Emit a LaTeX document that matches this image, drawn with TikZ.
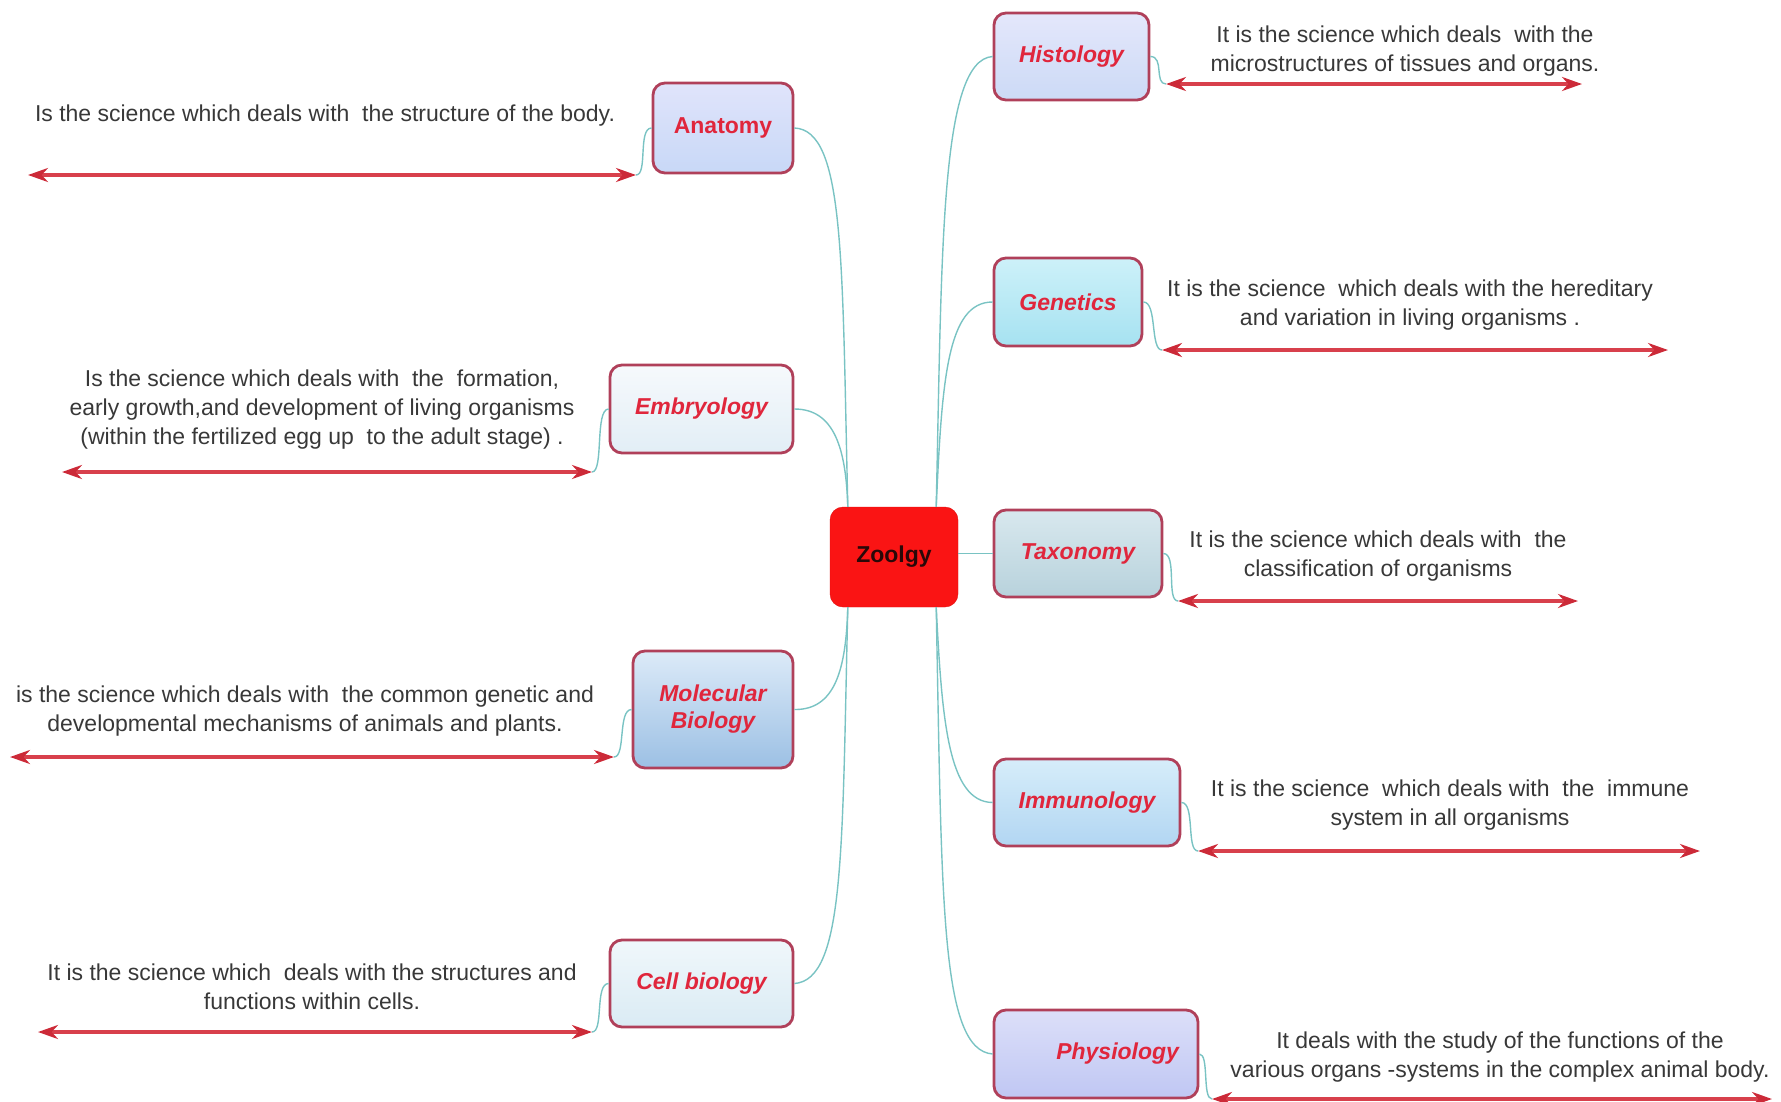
\documentclass[tikz,border=0pt]{standalone}
\usepackage{fontspec}
\setmainfont{Liberation Sans}
\usetikzlibrary{arrows.meta}
\definecolor{descgray}{HTML}{383838}
\definecolor{labelred}{HTML}{E0263C}
\definecolor{boxborder}{HTML}{B0405A}
\definecolor{linkteal}{HTML}{79C3C3}
\definecolor{arrowred}{HTML}{D8404C}
\definecolor{tipred}{HTML}{CC2A38}
\definecolor{zoored}{HTML}{FA1414}
\definecolor{zootext}{HTML}{2A0808}
\definecolor{anaT}{HTML}{E0E4FB}\definecolor{anaB}{HTML}{C8D8F7}
\definecolor{embT}{HTML}{F6F9FC}\definecolor{embB}{HTML}{E2EEF6}
\definecolor{molT}{HTML}{DCEAF8}\definecolor{molB}{HTML}{9CC0E4}
\definecolor{celT}{HTML}{F0F7FB}\definecolor{celB}{HTML}{DAEBF4}
\definecolor{hisT}{HTML}{E4E7FB}\definecolor{hisB}{HTML}{CCDAF6}
\definecolor{genT}{HTML}{CDF1F9}\definecolor{genB}{HTML}{A6E2F1}
\definecolor{taxT}{HTML}{D8E8EE}\definecolor{taxB}{HTML}{B8D2DC}
\definecolor{immT}{HTML}{D6EDFA}\definecolor{immB}{HTML}{B2D6F2}
\definecolor{phyT}{HTML}{DCDFF9}\definecolor{phyB}{HTML}{C0C7F3}
\tikzset{
  topic/.style={draw=boxborder, line width=2.8pt, rounded corners=12pt, inner sep=0pt,
    font=\fontsize{23}{27}\selectfont\bfseries\itshape, text=labelred, align=center},
  desc/.style={font=\fontsize{23}{29}\selectfont, text=descgray, align=center, inner sep=0pt},
  redarrow/.style={draw=arrowred, line width=3.4pt,
    {Stealth[length=20pt,width=14pt,color=tipred]}-{Stealth[length=20pt,width=14pt,color=tipred]}},
  teallink/.style={draw=linkteal, line width=1.4pt},
}
\begin{document}
\begin{tikzpicture}[x=1pt,y=-1pt]
\useasboundingbox (0,0) rectangle (1781,1101);
% central node
\node[draw=zoored!90!black, fill=zoored, rounded corners=13pt, minimum width=128pt, minimum height=100pt,
  font=\fontsize{23}{27}\selectfont\bfseries, text=zootext, inner sep=0pt] (zoo) at (894,557) {Zoolgy};
% left topics
\node[topic, top color=anaT, bottom color=anaB, minimum width=140pt, minimum height=90pt, font=\fontsize{23}{27}\selectfont\bfseries] (anat) at (723,128) {Anatomy};
\node[topic, top color=embT, bottom color=embB, minimum width=183pt, minimum height=88pt] (embr) at (701.5,409) {Embryology};
\node[topic, top color=molT, bottom color=molB, minimum width=160pt, minimum height=117pt] (molb) at (713,709.5) {Molecular\\Biology};
\node[topic, top color=celT, bottom color=celB, minimum width=183pt, minimum height=87pt] (cell) at (701.5,983.5) {Cell biology};
% right topics
\node[topic, top color=hisT, bottom color=hisB, minimum width=155pt, minimum height=87pt] (hist) at (1071.5,56.5) {Histology};
\node[topic, top color=genT, bottom color=genB, minimum width=148pt, minimum height=88pt] (gene) at (1068,302) {Genetics};
\node[topic, top color=taxT, bottom color=taxB, minimum width=168pt, minimum height=87pt] (taxo) at (1078,553.5) {Taxonomy};
\node[topic, top color=immT, bottom color=immB, minimum width=186pt, minimum height=87pt] (immu) at (1087,802.5) {Immunology};
\node[topic, top color=phyT, bottom color=phyB, minimum width=204pt, minimum height=88pt, text width=166pt, align=right] (phys) at (1096,1054) {Physiology};
% main connectors
\coordinate (zl1) at ([xshift=18pt]zoo.north west);
\coordinate (zl2) at ([xshift=18pt]zoo.south west);
\coordinate (zr1) at ([xshift=-22pt]zoo.north east);
\coordinate (zr2) at ([xshift=-22pt]zoo.south east);
\draw[teallink] (zl1) .. controls (842,260) and (845,130) .. (anat.east);
\draw[teallink] (zl1) .. controls (846,450) and (835,409) .. (embr.east);
\draw[teallink] (zl2) .. controls (846,670) and (835,710) .. (molb.east);
\draw[teallink] (zl2) .. controls (842,850) and (845,980) .. (cell.east);
\draw[teallink] (zr1) .. controls (942,250) and (940,60) .. (hist.west);
\draw[teallink] (zr1) .. controls (942,380) and (947,302) .. (gene.west);
\draw[teallink] (taxo.west -| zoo.east) -- (taxo.west);
\draw[teallink] (zr2) .. controls (942,720) and (948,802) .. (immu.west);
\draw[teallink] (zr2) .. controls (942,900) and (940,1050) .. (phys.west);
% descriptions (left)
\node[desc] (tana) at (325,116) {Is the science which deals with \ the structure of the body.};
\coordinate (ana1) at (28,175); \coordinate (ana2) at (636,175);
\draw[redarrow] (ana1) -- (ana2);
\draw[teallink] (anat.west) .. controls +(-14,0) and +(12,0) .. (ana2);

\node[desc] (temb) at (322,410) {Is the science which deals with \ the \ formation,\\early growth,and development of living organisms\\(within the fertilized egg up \ to the adult stage) .};
\coordinate (emb1) at (62,472); \coordinate (emb2) at (592,472);
\draw[redarrow] (emb1) -- (emb2);
\draw[teallink] (embr.west) .. controls +(-14,0) and +(12,0) .. (emb2);

\node[desc] (tmol) at (305,711.5) {is the science which deals with \ the common genetic and\\developmental mechanisms of animals and plants.};
\coordinate (mol1) at (10,757); \coordinate (mol2) at (614,757);
\draw[redarrow] (mol1) -- (mol2);
\draw[teallink] (molb.west) .. controls +(-14,0) and +(12,0) .. (mol2);

\node[desc] (tcel) at (312,986.5) {It is the science which \ deals with the structures and\\functions within cells.};
\coordinate (cel1) at (38,1032); \coordinate (cel2) at (592,1032);
\draw[redarrow] (cel1) -- (cel2);
\draw[teallink] (cell.west) .. controls +(-14,0) and +(12,0) .. (cel2);
% descriptions (right)
\node[desc] (this) at (1405,51.5) {It is the science which deals \ with the\\microstructures of tissues and organs.};
\coordinate (his1) at (1166,84); \coordinate (his2) at (1582,84);
\draw[redarrow] (his1) -- (his2);
\draw[teallink] (hist.east) .. controls +(14,0) and +(-12,0) .. (his1);

\node[desc] (tgen) at (1410,305) {It is the science \ which deals with the hereditary\\and variation in living organisms .};
\coordinate (gen1) at (1162,350); \coordinate (gen2) at (1668,350);
\draw[redarrow] (gen1) -- (gen2);
\draw[teallink] (gene.east) .. controls +(14,0) and +(-12,0) .. (gen1);

\node[desc] (ttax) at (1378,556) {It is the science which deals with \ the\\classification of organisms};
\coordinate (tax1) at (1178,601); \coordinate (tax2) at (1578,601);
\draw[redarrow] (tax1) -- (tax2);
\draw[teallink] (taxo.east) .. controls +(14,0) and +(-12,0) .. (tax1);

\node[desc] (timm) at (1450,805) {It is the science \ which deals with \ the \ immune\\system in all organisms};
\coordinate (imm1) at (1198,851); \coordinate (imm2) at (1700,851);
\draw[redarrow] (imm1) -- (imm2);
\draw[teallink] (immu.east) .. controls +(14,0) and +(-12,0) .. (imm1);

\node[desc] (tphy) at (1500,1057) {It deals with the study of the functions of the\\various organs -systems in the complex animal body.};
\coordinate (phy1) at (1212,1099); \coordinate (phy2) at (1772,1099);
\draw[redarrow] (phy1) -- (phy2);
\draw[teallink] (phys.east) .. controls +(10,0) and +(-10,0) .. (phy1);
\end{tikzpicture}
\end{document}
